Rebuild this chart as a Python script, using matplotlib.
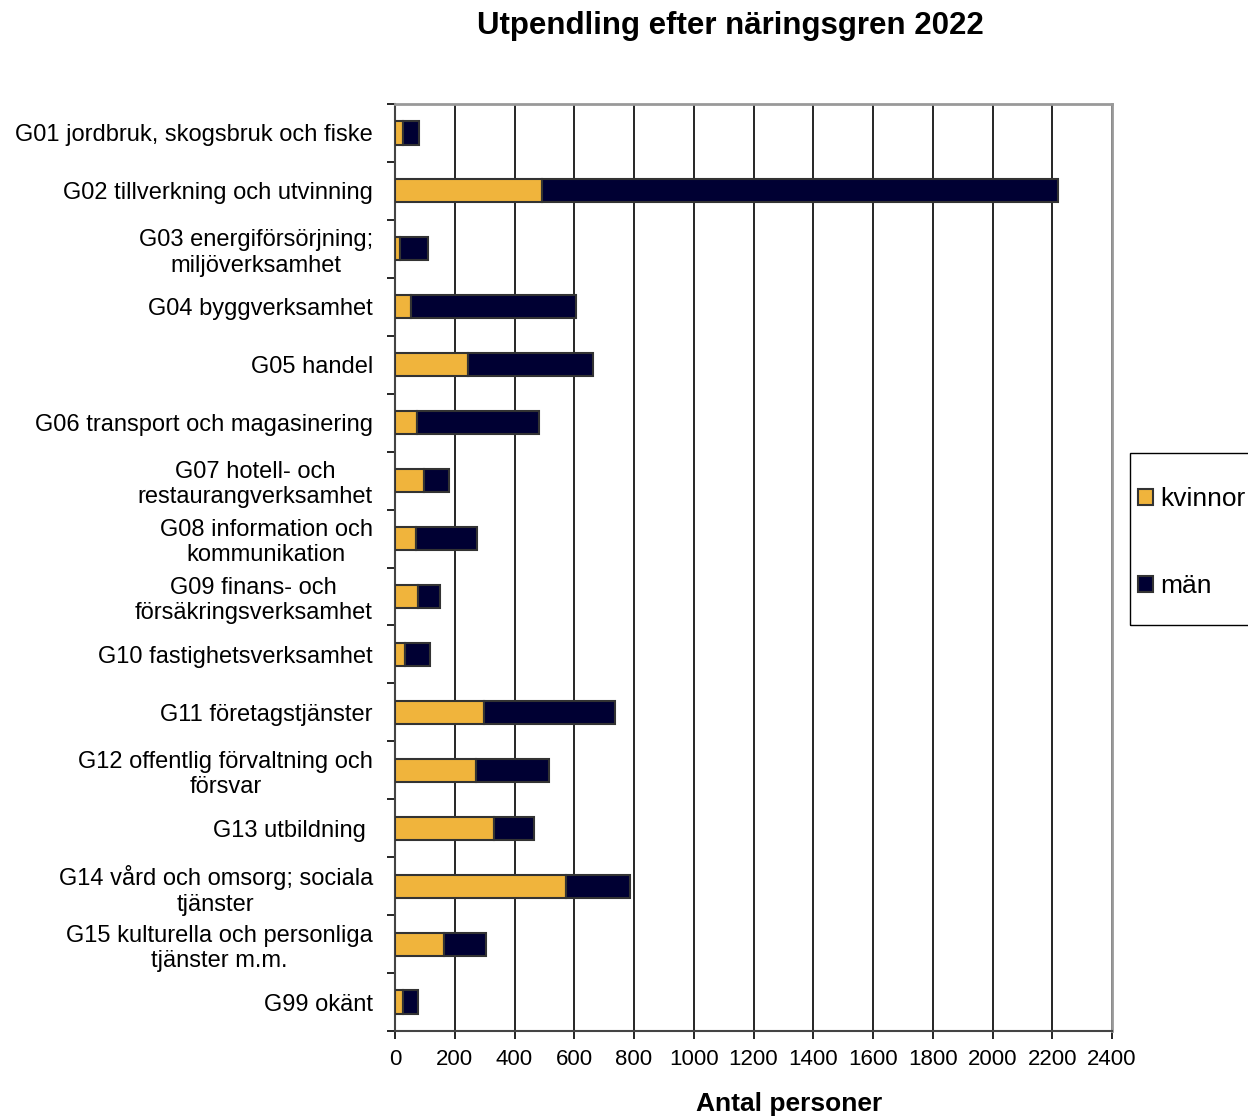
import numpy as np
import matplotlib.pyplot as plt
from matplotlib.ticker import MultipleLocator
from matplotlib.patches import Rectangle

plt.rcParams['font.family'] = ['Liberation Sans', 'DejaVu Sans']

# Data
categories = [
    "G01 jordbruk, skogsbruk och fiske",
    "G02 tillverkning och utvinning",
    "G03 energiförsörjning;\nmiljöverksamhet",
    "G04 byggverksamhet",
    "G05 handel",
    "G06 transport och magasinering",
    "G07 hotell- och\nrestaurangverksamhet",
    "G08 information och\nkommunikation",
    "G09 finans- och\nförsäkringsverksamhet",
    "G10 fastighetsverksamhet",
    "G11 företagstjänster",
    "G12 offentlig förvaltning och\nförsvar",
    "G13 utbildning ",
    "G14 vård och omsorg; sociala\ntjänster",
    "G15 kulturella och personliga\ntjänster m.m.",
    "G99 okänt",
]
kvinnor = [26, 493, 17, 52, 244, 73, 96, 69, 77, 34, 299, 270, 330, 572, 164, 27]
total = [80, 2220, 110, 607, 664, 481, 182, 276, 152, 118, 738, 514, 464, 788, 306, 76]
man = [t - k for t, k in zip(total, kvinnor)]

W, H = 1248, 1119
fig = plt.figure(figsize=(W / 100, H / 100), dpi=100)
ax = fig.add_axes([395/W, 1 - 1031/H, (1112-395)/W, (1031-104)/H])

y = np.arange(len(categories))
ax.barh(y, kvinnor, height=0.4, color='#F0B43C', edgecolor='#333333', lw=1.5,
        label='kvinnor', zorder=3)
ax.barh(y, man, left=kvinnor, height=0.4, color='#000033', edgecolor='#333333',
        lw=1.5, label='män', zorder=3)

ax.set_ylim(len(categories) - 0.5, -0.5)
ax.set_xlim(0, 2400)
ax.xaxis.set_major_locator(MultipleLocator(200))
ax.grid(axis='x', color='black', lw=1.2, zorder=0)

ax.set_yticks(y)
ax.set_yticklabels(categories, fontsize=17, multialignment='center',
                   linespacing=1.2)
ax.set_yticks(np.arange(-0.5, len(categories), 1), minor=True)
ax.tick_params(axis='y', which='major', length=0, pad=16)
ax.tick_params(axis='y', which='minor', length=6, width=1.2, direction='out')
ax.tick_params(axis='x', length=6, width=1.2, direction='out', labelsize=16, pad=7)

for s in ['top', 'right']:
    ax.spines[s].set_color('#999999')
    ax.spines[s].set_linewidth(2)
for s in ['left', 'bottom']:
    ax.spines[s].set_color('#444444')
    ax.spines[s].set_linewidth(1.5)

fig.text(730/W, 1 - 26/H, "Utpendling efter näringsgren 2022",
         ha='center', va='center', fontsize=22.5, fontweight='bold')
fig.text(789/W, 1 - 1104/H, "Antal personer",
         ha='center', va='center', fontsize=19, fontweight='bold')

# legend box
fig.patches.append(Rectangle((1130/W, 1 - 625/H), 130/W, (625-453)/H,
                             transform=fig.transFigure, fill=False,
                             edgecolor='black', lw=1.0))
leg = fig.legend(loc='upper left', bbox_to_anchor=(1138/W, 1 - 487/H),
                 fontsize=19, frameon=False,
                 handlelength=0.55, handleheight=0.55, handletextpad=0.3,
                 labelspacing=2.4, borderpad=0, borderaxespad=0)

fig.savefig('out.png', dpi=100)
